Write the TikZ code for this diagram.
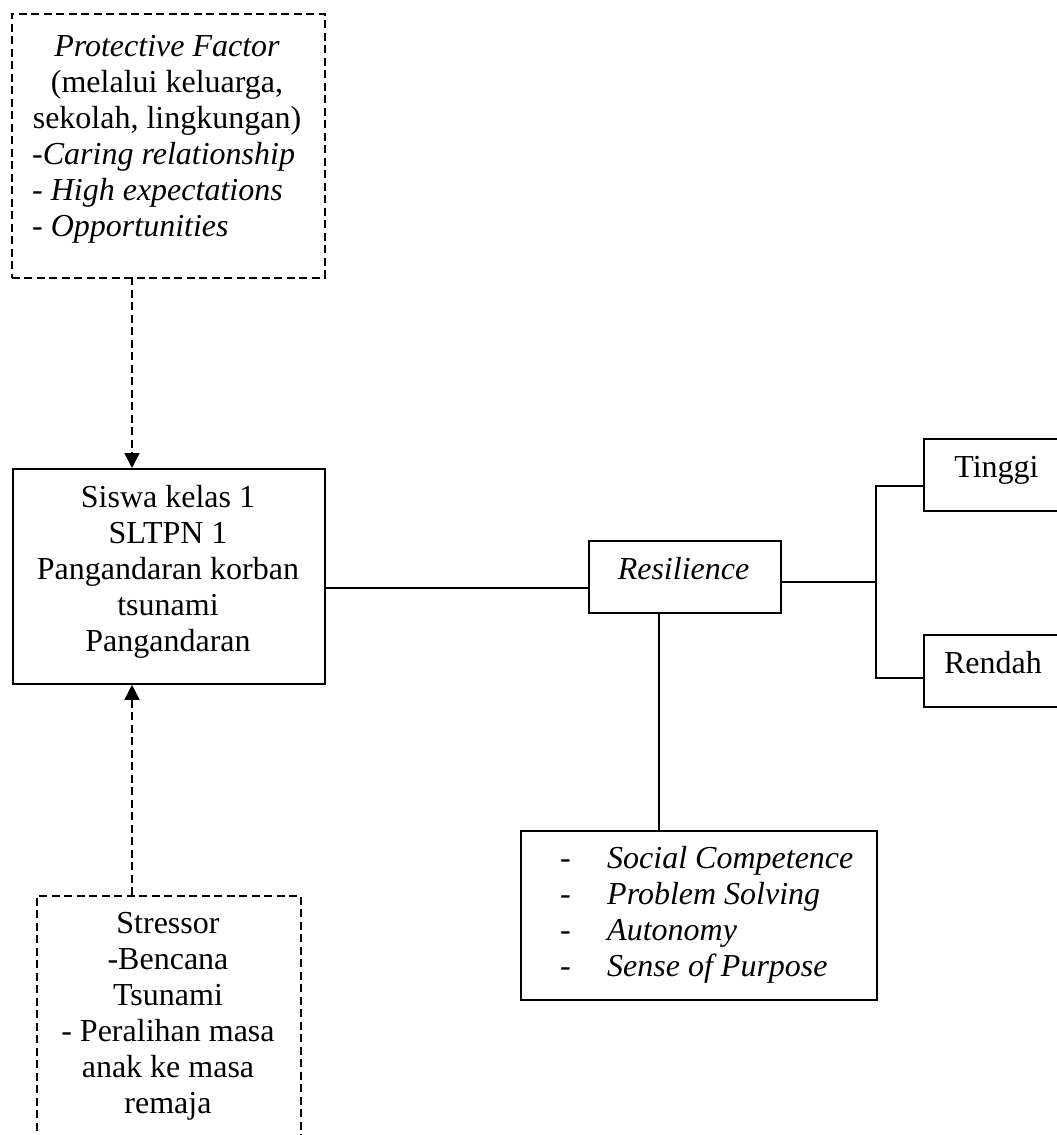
\documentclass[tikz,border=0pt]{standalone}
\usepackage{fontspec}
\setmainfont{Liberation Serif}
\usetikzlibrary{arrows.meta}
\begin{document}
\begin{tikzpicture}[x=1pt,y=-1pt,
  frame/.style={draw, line width=1.8pt, inner sep=0pt, anchor=north west},
  dashframe/.style={frame, dash pattern=on 8pt off 4.5pt},
  txt/.style={inner sep=0pt, font=\fontsize{32}{36}\selectfont},
  link/.style={line width=1.8pt},
  dlink/.style={link, dash pattern=on 8pt off 4.5pt, -{Triangle[length=15pt,width=15pt]}}]
\useasboundingbox (0,0) rectangle (1057,1135);
% boxes
\node[dashframe, minimum width=313pt, minimum height=264pt] (prot) at (11,13) {};
\node[frame, minimum width=312pt, minimum height=215pt] (main) at (12,468) {};
\node[dashframe, minimum width=264pt, minimum height=270pt] (stress) at (36,895) {};
\node[frame, minimum width=192pt, minimum height=72pt] (res) at (588,540) {};
\node[frame, minimum width=150pt, minimum height=72pt] (tinggi) at (923,438) {};
\node[frame, minimum width=150pt, minimum height=72pt] (rendah) at (923,634) {};
\node[frame, minimum width=356pt, minimum height=169pt] (list) at (520,830) {};
% texts
\node[txt, anchor=north, align=center] (protA) at (167,35) {\textit{Protective Factor}\\(melalui keluarga,\\sekolah, lingkungan)};
\node[txt, anchor=north west, align=left] (protB) at (32,142) {-\textit{Caring relationship}\\- \textit{High expectations}\\- \textit{Opportunities}};
\node[txt, anchor=north, align=center] (mainT) at (168,485) {Siswa kelas 1\\SLTPN 1\\Pangandaran korban\\tsunami\\Pangandaran};
\node[txt, anchor=north, align=center] (stressT) at (168,912) {Stressor\\-Bencana\\Tsunami\\- Peralihan masa\\anak ke masa\\remaja};
\node[txt, anchor=base] (resT) at (683.5,579) {\textit{Resilience}};
\node[txt, anchor=base] (tinggiT) at (996.5,477) {Tinggi};
\node[txt, anchor=base] (rendahT) at (993,673) {Rendah};
\node[txt, anchor=north west, align=left] (listT) at (560,846) {\makebox[47pt][l]{-}\textit{Social Competence}\\\makebox[47pt][l]{-}\textit{Problem Solving}\\\makebox[47pt][l]{-}\textit{Autonomy}\\\makebox[47pt][l]{-}\textit{Sense of Purpose}};
% connectors
\coordinate (pa) at (132,277);
\draw[dlink] (pa) -- (pa |- main.north);
\coordinate (sa) at (132,895);
\draw[dlink] (sa) -- (sa |- main.south);
\coordinate (m1) at (324,588);
\draw[link] (m1) -- (m1 -| res.west);
\coordinate (r1) at (780,582);
\coordinate (fork) at (876,582);
\draw[link] (r1) -- (fork);
\coordinate (t1) at (923,486);
\coordinate (d1) at (923,678);
\draw[link] (t1) -| (fork) |- (d1);
\coordinate (v1) at (659,612);
\draw[link] (v1) -- (v1 |- list.north);
\end{tikzpicture}
\end{document}
